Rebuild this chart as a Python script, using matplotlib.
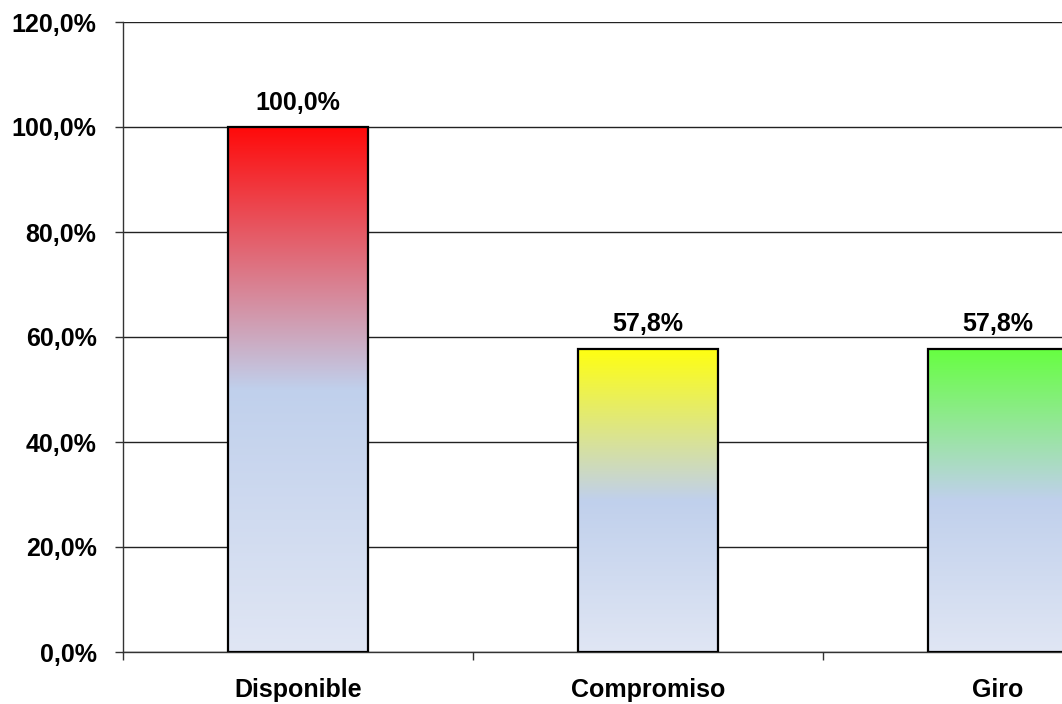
import numpy as np
import matplotlib
matplotlib.use("Agg")
import matplotlib.pyplot as plt
from matplotlib.colors import to_rgb
from matplotlib.ticker import FixedLocator

categories = ["Disponible", "Compromiso", "Giro"]
values = [100.0, 57.8, 57.8]
labels = ["100,0%", "57,8%", "57,8%"]
top_colors = ["#ff0a0a", "#ffff10", "#66ff40"]
yticks = [0, 20, 40, 60, 80, 100, 120]
ytick_labels = ["0,0%", "20,0%", "40,0%", "60,0%", "80,0%", "100,0%", "120,0%"]

mid_blue = np.array(to_rgb("#c0d0ec"))
low_blue = np.array(to_rgb("#e0e6f4"))

plt.rcParams['font.family'] = ['Liberation Sans', 'DejaVu Sans']
plt.rcParams['font.weight'] = 'bold'

fig = plt.figure(figsize=(10.62, 7.04), dpi=100)
ax = fig.add_axes([123/1062, 1-652/704, 1050/1062, 630/704])

x = np.arange(len(categories))
w = 0.4
ax.set_xlim(-0.5, len(categories) - 0.5)
ax.set_ylim(0, 120)

for xi, v, c in zip(x, values, top_colors):
    top = np.array(to_rgb(c))
    n = 400
    t = np.linspace(0, 1, n)  # 0 = top, 1 = bottom
    cols = np.zeros((n, 1, 3))
    for i, tt in enumerate(t):
        if tt <= 0.5:
            f = tt / 0.5
            cols[i, 0] = top * (1 - f) + mid_blue * f
        else:
            f = (tt - 0.5) / 0.5
            cols[i, 0] = mid_blue * (1 - f) + low_blue * f
    ax.imshow(cols, extent=[xi - w/2, xi + w/2, 0, v], aspect='auto',
              origin='upper', zorder=2, interpolation='bilinear')
    ax.bar(xi, v, width=w, facecolor='none', edgecolor='black', linewidth=1.6, zorder=3)

for xi, v, lab in zip(x, values, labels):
    ax.annotate(lab, (xi, v), xytext=(0, 9), textcoords='offset points',
                ha='center', va='bottom', fontsize=18, fontweight='bold')

ax.set_xlim(-0.5, len(categories) - 0.5)
ax.set_ylim(0, 120)

ax.set_yticks(yticks)
ax.set_yticklabels(ytick_labels, fontsize=18, fontweight='bold')
ax.set_xticks(x)
ax.set_xticklabels(categories, fontsize=18, fontweight='bold')
ax.xaxis.set_minor_locator(FixedLocator([-0.5, 0.5, 1.5, 2.5]))
ax.tick_params(axis='x', which='major', length=0, pad=19)
ax.tick_params(axis='x', which='minor', length=5.5, width=1, color='#333333')
ax.tick_params(axis='y', length=6, width=1, pad=13, color='#333333')

ax.yaxis.grid(True, color='#222222', linewidth=1.0, zorder=1)
ax.set_axisbelow(True)
for s in ['top', 'right']:
    ax.spines[s].set_visible(False)
ax.spines['left'].set_color('#333333')
ax.spines['bottom'].set_color('#333333')
ax.spines['left'].set_linewidth(1.0)
ax.spines['bottom'].set_linewidth(1.0)

fig.savefig("out.png", dpi=100)
